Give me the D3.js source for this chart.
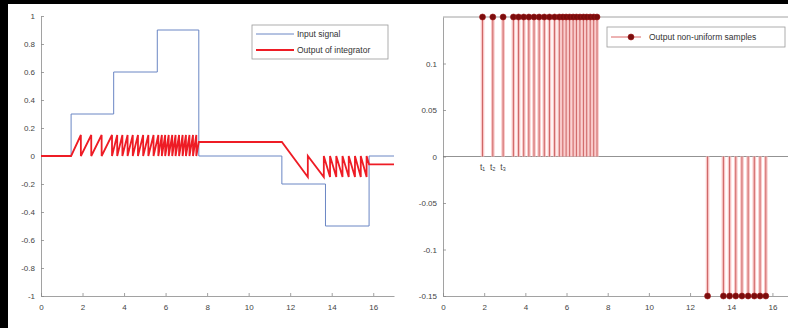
<!DOCTYPE html>
<html>
<head>
<meta charset="utf-8">
<script src="https://cdn.jsdelivr.net/npm/d3@7"></script>
<style>
  body { margin: 0; background: #fff; }
  svg { display: block; }
  .tick text { font-family: "Liberation Sans", Arial, sans-serif; font-size: 8px; fill: #444; }
</style>
</head>
<body>
<svg id="chart" width="788" height="328"></svg>
<script>
// --- data ---
// input signal: [time, level from that time on]
const inputSteps = [[0, 0], [1.45, 0.3], [3.5, 0.6], [5.6, 0.9], [7.6, 0], [11.6, -0.2], [13.7, -0.5], [15.8, 0], [17, 0]];

// integrator output vertices: [time, value]
const integratorOut = [
  [0, 0], [1.45, 0],
  [1.92, 0.15], [1.92, 0], [2.42, 0.15], [2.42, 0], [2.92, 0.15], [2.92, 0], [3.42, 0.15], [3.42, 0],
  [3.67, 0.15], [3.67, 0], [3.92, 0.15], [3.92, 0], [4.17, 0.15], [4.17, 0], [4.42, 0.15], [4.42, 0],
  [4.67, 0.15], [4.67, 0], [4.92, 0.15], [4.92, 0], [5.17, 0.15], [5.17, 0], [5.42, 0.15], [5.42, 0],
  [5.65, 0.15], [5.65, 0], [5.82, 0.15], [5.82, 0], [5.98, 0.15], [5.98, 0], [6.15, 0.15], [6.15, 0],
  [6.32, 0.15], [6.32, 0], [6.48, 0.15], [6.48, 0], [6.65, 0.15], [6.65, 0], [6.82, 0.15], [6.82, 0],
  [6.98, 0.15], [6.98, 0], [7.15, 0.15], [7.15, 0], [7.32, 0.15], [7.32, 0], [7.48, 0.15], [7.48, 0],
  [7.6, 0.1], [11.6, 0.1],
  [12.85, -0.15], [12.85, 0], [13.62, -0.15], [13.62, 0], [13.92, -0.15], [13.92, 0], [14.22, -0.15], [14.22, 0],
  [14.52, -0.15], [14.52, 0], [14.82, -0.15], [14.82, 0], [15.12, -0.15], [15.12, 0], [15.4, -0.15], [15.4, 0],
  [15.68, -0.15], [15.68, 0],
  [15.8, -0.06], [17, -0.06]
];

// non-uniform samples (stems)
const posSampleTimes = [1.92, 2.42, 2.92, 3.42, 3.67, 3.92, 4.17, 4.42, 4.67, 4.92, 5.17, 5.42,
  5.65, 5.82, 5.98, 6.15, 6.32, 6.48, 6.65, 6.82, 6.98, 7.15, 7.32, 7.48];
const negSampleTimes = [12.85, 13.62, 13.92, 14.22, 14.52, 14.82, 15.12, 15.4, 15.68];
const sampleLevel = 0.15;
const tLabels = ["t\u2081", "t\u2082", "t\u2083"];

const leftYTicks = [-1, -0.8, -0.6, -0.4, -0.2, 0, 0.2, 0.4, 0.6, 0.8, 1];
const rightYTicks = [-0.15, -0.1, -0.05, 0, 0.05, 0.1];
const xTicks = [0, 2, 4, 6, 8, 10, 12, 14, 16];

const BLUE = '#6a86c4';
const RED = '#ee1c25';
const AXIS = '#8a8a8a';
const FONT = '"Liberation Sans", Arial, sans-serif';

const svg = d3.select('#chart');

svg.append('rect').attr('width', 788).attr('height', 328).attr('fill', '#fff');

const fmt = d => String(+d.toFixed(2));

const styleAxis = (g) => {
  g.select('.domain').attr('stroke', AXIS).attr('stroke-width', 0.8);
  g.selectAll('.tick line').attr('stroke', AXIS).attr('stroke-width', 0.8);
};

// --- 1. left panel: input and integrator ---
const xL = d3.scaleLinear().domain([0, 17]).range([41, 394]);
const yL = d3.scaleLinear().domain([-1, 1]).range([296, 16]);

svg.append('g')
  .attr('transform', `translate(0,${yL(-1)})`)
  .call(d3.axisBottom(xL).tickValues(xTicks).tickFormat(fmt).tickSizeInner(-3).tickSizeOuter(0).tickPadding(8))
  .call(styleAxis);

svg.append('g')
  .attr('transform', `translate(${xL(0)},0)`)
  .call(d3.axisLeft(yL).tickValues(leftYTicks).tickFormat(fmt).tickSizeInner(-3).tickSizeOuter(0).tickPadding(6))
  .call(styleAxis);

const lineL = d3.line().x(d => xL(d[0])).y(d => yL(d[1]));

svg.append('path')
  .attr('d', lineL.curve(d3.curveStepAfter)(inputSteps))
  .attr('fill', 'none')
  .attr('stroke', BLUE)
  .attr('stroke-width', 1);

svg.append('path')
  .attr('d', d3.line().x(d => xL(d[0])).y(d => yL(d[1]))(integratorOut))
  .attr('fill', 'none')
  .attr('stroke', RED)
  .attr('stroke-width', 1.8)
  .attr('stroke-linejoin', 'miter');

// left legend
const legL = svg.append('g').attr('transform', 'translate(252,25)');
legL.append('rect').attr('width', 136).attr('height', 34)
  .attr('fill', '#fff').attr('stroke', '#999').attr('stroke-width', 0.8);
[['Input signal', BLUE, 1], ['Output of integrator', RED, 1.8]].forEach(([label, color, w], i) => {
  const y = 9 + i * 16;
  legL.append('line').attr('x1', 4).attr('x2', 42).attr('y1', y).attr('y2', y)
    .attr('stroke', color).attr('stroke-width', w);
  legL.append('text').attr('x', 45).attr('y', y + 3)
    .attr('font-family', FONT).attr('font-size', '8.5px').attr('fill', '#333').text(label);
});

// --- 2. right panel: non-uniform samples ---
const xR = d3.scaleLinear().domain([0, 17]).range([443, 793]);
const yR = d3.scaleLinear().domain([-0.15, 0.15]).range([296, 17]);

svg.append('g')
  .attr('transform', `translate(0,${yR(-0.15)})`)
  .call(d3.axisBottom(xR).tickValues(xTicks).tickFormat(fmt).tickSizeInner(-3).tickSizeOuter(0).tickPadding(8))
  .call(styleAxis);

svg.append('g')
  .attr('transform', `translate(${xR(0)},0)`)
  .call(d3.axisLeft(yR).tickValues(rightYTicks).tickFormat(fmt).tickSizeInner(-3).tickSizeOuter(0).tickPadding(6))
  .call(styleAxis);

// top border and zero baseline
svg.append('line').attr('x1', xR(0)).attr('x2', 788).attr('y1', yR(0.15)).attr('y2', yR(0.15))
  .attr('stroke', AXIS).attr('stroke-width', 0.8);
svg.append('line').attr('x1', xR(0)).attr('x2', 788).attr('y1', yR(0)).attr('y2', yR(0))
  .attr('stroke', '#777').attr('stroke-width', 0.8);

const samples = posSampleTimes.map(t => [t, sampleLevel])
  .concat(negSampleTimes.map(t => [t, -sampleLevel]));

const stems = svg.append('g');
stems.selectAll('.halo').data(samples).enter().append('line')
  .attr('class', 'halo')
  .attr('x1', d => xR(d[0])).attr('x2', d => xR(d[0]))
  .attr('y1', yR(0)).attr('y2', d => yR(d[1]))
  .attr('stroke', '#f9c8c8').attr('stroke-width', 3.6);
stems.selectAll('.stem').data(samples).enter().append('line')
  .attr('class', 'stem')
  .attr('x1', d => xR(d[0])).attr('x2', d => xR(d[0]))
  .attr('y1', yR(0)).attr('y2', d => yR(d[1]))
  .attr('stroke', '#c24a4a').attr('stroke-width', 0.8);
stems.selectAll('.mark').data(samples).enter().append('circle')
  .attr('class', 'mark')
  .attr('cx', d => xR(d[0])).attr('cy', d => yR(d[1]))
  .attr('r', 3)
  .attr('fill', '#7a0d0d').attr('stroke', '#a01818').attr('stroke-width', 0.6);

// t1 t2 t3 annotations under the first stems
svg.selectAll('.tlab').data(tLabels).enter().append('text')
  .attr('class', 'tlab')
  .attr('x', (d, i) => xR(posSampleTimes[i]))
  .attr('y', yR(0) + 13)
  .attr('text-anchor', 'middle')
  .attr('font-family', FONT).attr('font-size', '8.5px').attr('fill', '#444')
  .text(d => d);

// right legend
const legR = svg.append('g').attr('transform', 'translate(607,27)');
legR.append('rect').attr('width', 178).attr('height', 20)
  .attr('fill', '#fff').attr('stroke', '#999').attr('stroke-width', 0.8);
legR.append('line').attr('x1', 4).attr('x2', 34).attr('y1', 10).attr('y2', 10)
  .attr('stroke', '#d04040').attr('stroke-width', 0.8);
legR.append('circle').attr('cx', 24).attr('cy', 10).attr('r', 3)
  .attr('fill', '#7a0d0d').attr('stroke', '#a01818').attr('stroke-width', 0.6);
legR.append('text').attr('x', 42).attr('y', 13)
  .attr('font-family', FONT).attr('font-size', '8.5px').attr('fill', '#333')
  .text('Output non-uniform samples');

// dark border strips from the scan
svg.append('rect').attr('x', 0).attr('y', 0).attr('width', 788).attr('height', 4).attr('fill', '#000');
svg.append('rect').attr('x', 0).attr('y', 0).attr('width', 8).attr('height', 328).attr('fill', '#000');
</script>
</body>
</html>
